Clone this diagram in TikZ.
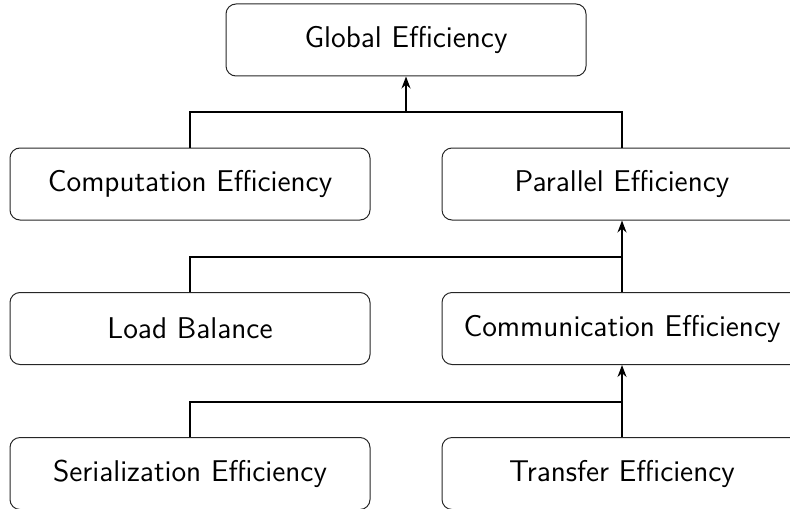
\documentclass[tikz,border=0pt]{standalone}
\usepackage{fontspec}
\usetikzlibrary{arrows.meta}

\tikzset{
  box/.style={draw=black!85, line width=0.5pt, rounded corners=5pt,
    minimum width=180pt, minimum height=36pt, inner sep=0pt,
    font=\sffamily\fontsize{15}{18}\selectfont, anchor=center},
  link/.style={draw=black, line width=0.9pt},
  feed/.style={link, -{Stealth[length=6pt, width=4.5pt]}}
}

\begin{document}
\begin{tikzpicture}[x=0.5pt, y=-0.5pt]
  \clip (0,0) rectangle (790,508);

  % hierarchy of efficiency metrics
  \node[box] (glob) at (406,40)    {Global Efficiency};
  \node[box] (comp) at (190,184)   {Computation Efficiency};
  \node[box] (par)  at (622,184)   {Parallel Efficiency};
  \node[box] (load) at (190,328.5) {Load Balance};
  \node[box] (comm) at (622,328.5) {Communication Efficiency};
  \node[box] (ser)  at (190,473.5) {Serialization Efficiency};
  \node[box] (tra)  at (622,473.5) {Transfer Efficiency};

  % junction points of the connectors
  \coordinate (j1) at (406,112);
  \coordinate (j2) at (622,257);
  \coordinate (j3) at (622,402);

  % level 1: computation and parallel feed global
  \draw[link] (comp.north) -- (comp.north |- j1) -- (par.north |- j1) -- (par.north);
  \draw[feed] (j1) -- (glob.south);

  % level 2: load balance and communication feed parallel
  \draw[link] (load.north) |- (j2);
  \draw[feed] (comm.north) -- (par.south);

  % level 3: serialization and transfer feed communication
  \draw[link] (ser.north) |- (j3);
  \draw[feed] (tra.north) -- (comm.south);
\end{tikzpicture}
\end{document}
